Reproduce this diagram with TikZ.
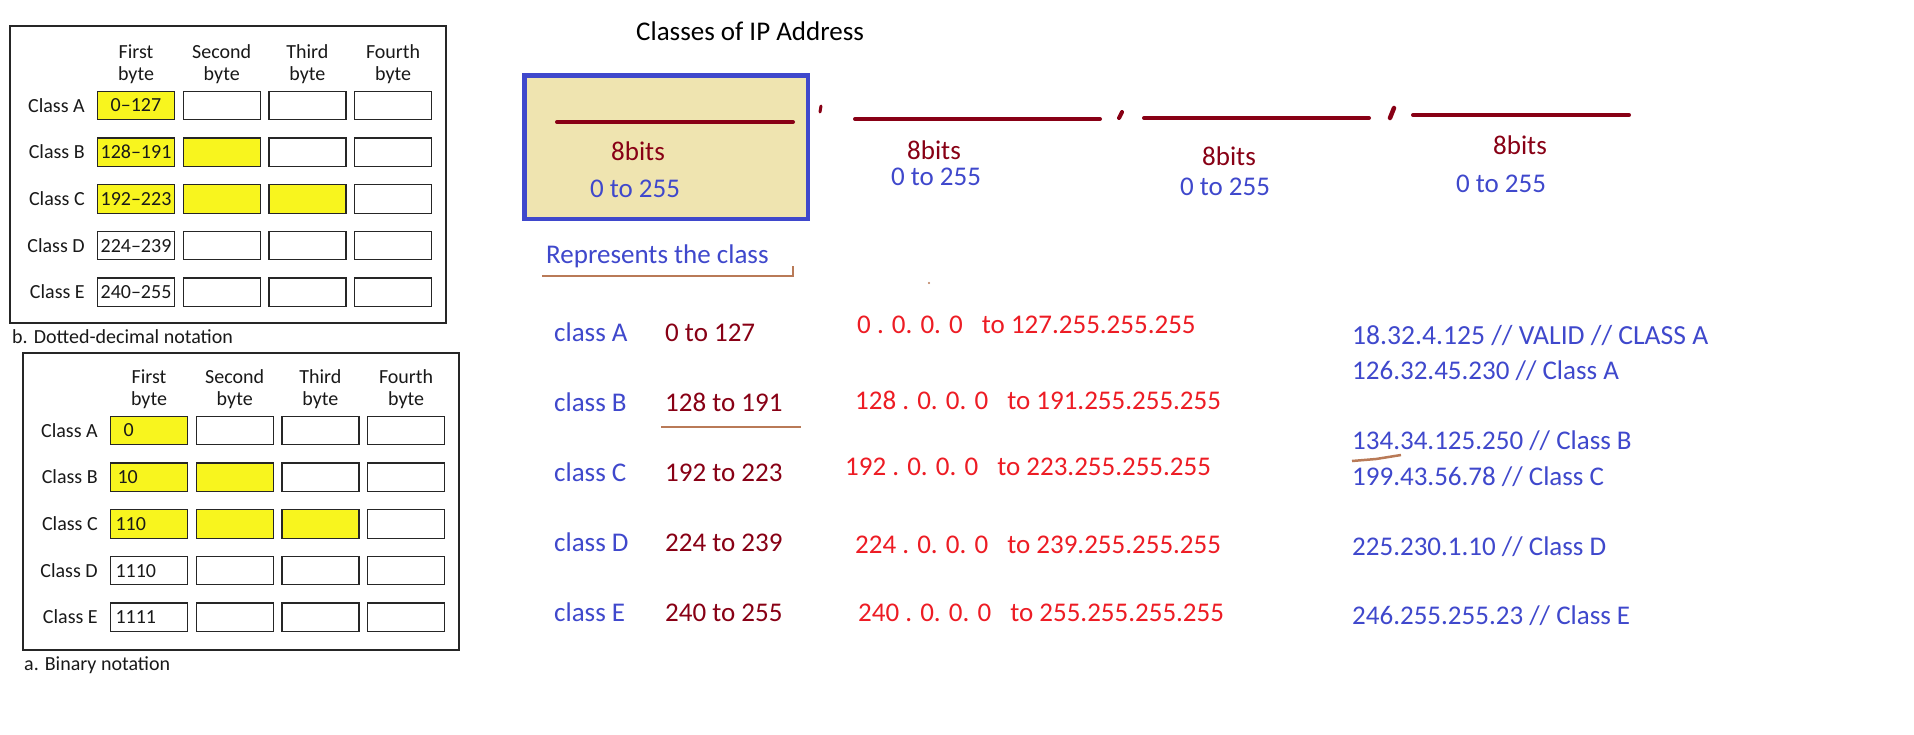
\documentclass[tikz,border=0pt]{standalone}
\usepackage{fontspec}
\setmainfont{Carlito}
\usetikzlibrary{positioning}
\definecolor{paintblue}{RGB}{63,72,204}
\definecolor{paintred}{RGB}{237,28,36}
\definecolor{darkred}{RGB}{136,0,21}
\definecolor{paintbrown}{RGB}{185,122,87}
\definecolor{boxfill}{RGB}{239,228,176}
\definecolor{cellyellow}{RGB}{248,245,30}
\def\cw{77pt}
\def\ch{28.5pt}
\tikzstyle{tab}=[inner sep=0pt,text=black!90,font=\fontsize{20}{22}\selectfont]
\tikzstyle{cell}=[tab,draw=black!85,line width=1.2pt,minimum width=\cw,minimum height=\ch]
\tikzstyle{bincell}=[cell,text width=67pt,align=left]
\tikzstyle{rowlabel}=[tab,text height=13pt,text depth=0pt]
\tikzstyle{head}=[tab,align=center]
\tikzstyle{frame}=[draw=black!85,line width=2pt]
\tikzstyle{txt}=[inner sep=0pt,text height=17pt,text depth=0pt,font=\fontsize{27}{32}\selectfont]
\tikzstyle{bluetxt}=[txt,text=paintblue]
\tikzstyle{redtxt}=[txt,text=paintred]
\tikzstyle{maroon}=[txt,text=darkred]
\tikzstyle{bitline}=[darkred,line width=4pt,line cap=round]
\tikzstyle{brownline}=[paintbrown,line width=2.7pt]
\tikzstyle{classbox}=[draw=paintblue,fill=boxfill,line width=4.5pt]
% one row of a byte table: name, label, first text, three fills, position, style
\newcommand{\newRow}[8]{%
  \node[#8,fill=#4,#7](#11){#3};
  \node[cell,fill=#5,right=of #11](#12){};
  \node[cell,fill=#6,right=of #12](#13){};
  \node[cell,fill=white,right=of #13](#14){};
  \node[rowlabel,left=12pt of #11](#1l){#2};}
% one class line: letter, y, range, address position, start, end
\newcommand{\newClass}[6]{%
  \node[bluetxt,anchor=west](cl#1) at (554,#2){class #1};
  \node[maroon,anchor=west](rg#1) at (665,#2){#3};
  \node[redtxt,anchor=west](ad#1) at (#4){#5\hspace{19pt}to #6};}

\begin{document}
\begin{tikzpicture}[x=1pt,y=-1pt,node distance=17pt and 7.5pt]
      \useasboundingbox[fill=white] (0,0) rectangle (1914,734);
      % b. dotted-decimal
      \draw[frame] (10,26) rectangle (446,323);
      \newRow{da}{Class A}{0–127}{cellyellow}{white}{white}{at={(136,105.5)}}{cell}
      \newRow{db}{Class B}{128–191}{cellyellow}{cellyellow}{white}{below=of da1}{cell}
      \newRow{dc}{Class C}{192–223}{cellyellow}{cellyellow}{cellyellow}{below=of db1}{cell}
      \newRow{dd}{Class D}{224–239}{white}{white}{white}{below=of dc1}{cell}
      \newRow{de}{Class E}{240–255}{white}{white}{white}{below=of dd1}{cell}
      \node[head,above=7pt of da1](dh1){First\\byte};
      \node[head,above=7pt of da2](dh2){Second\\byte};
      \node[head,above=7pt of da3](dh3){Third\\byte};
      \node[head,above=7pt of da4](dh4){Fourth\\byte};
      \node[rowlabel,anchor=west](dcap) at (12,337){b. Dotted-decimal notation};
      % a. binary
      \draw[frame] (23,353) rectangle (459,650);
      \newRow{ba}{Class A}{\hspace{8pt}0}{cellyellow}{white}{white}{at={(149,430.5)}}{bincell}
      \newRow{bb}{Class B}{\hspace{2pt}10}{cellyellow}{cellyellow}{white}{below=of ba1}{bincell}
      \newRow{bc}{Class C}{110}{cellyellow}{cellyellow}{cellyellow}{below=of bb1}{bincell}
      \newRow{bd}{Class D}{1110}{white}{white}{white}{below=of bc1}{bincell}
      \newRow{be}{Class E}{1111}{white}{white}{white}{below=of bd1}{bincell}
      \node[head,above=7pt of ba1](bh1){First\\byte};
      \node[head,above=7pt of ba2](bh2){Second\\byte};
      \node[head,above=7pt of ba3](bh3){Third\\byte};
      \node[head,above=7pt of ba4](bh4){Fourth\\byte};
      \node[rowlabel,anchor=west](bcap) at (24,664){a. Binary notation};
      % the four bytes
      \node[txt,anchor=west](title) at (636,32){Classes of IP Address};
      \node[classbox,minimum width=283.5pt,minimum height=143.5pt](box) at (666,147){};
      \draw[bitline] (557,122) -- (793,122);
      \draw[bitline] (855,119) -- (1100,119);
      \draw[bitline] (1144,118) -- (1369,118);
      \draw[bitline] (1413,115) -- (1629,115);
      \draw[bitline,line width=3pt] (821,106) -- (820,112);
      \draw[bitline] (1122,112) -- (1119,118);
      \draw[bitline,line width=4.5pt] (1394,108) -- (1390,118);
      \node[maroon](bits1) at (638,152){8bits};
      \node[bluetxt](rng1) at (635,189){0 to 255};
      \node[maroon](bits2) at (934,151){8bits};
      \node[bluetxt](rng2) at (936,177){0 to 255};
      \node[maroon](bits3) at (1229,157){8bits};
      \node[bluetxt](rng3) at (1225,187){0 to 255};
      \node[maroon](bits4) at (1520,146){8bits};
      \node[bluetxt](rng4) at (1501,184){0 to 255};
      \node[bluetxt,anchor=west](repr) at (546,255){Represents the class};
      \draw[brownline] (542,276) -- (793,276) -- (793,266);
      \fill[paintbrown] (929,283) circle (1.2pt);
      % classes
      \newClass{A}{333}{0 to 127}{857,325}{0 . 0. 0. 0}{127.255.255.255}
      \newClass{B}{403}{128 to 191}{855,401}{128 . 0. 0. 0}{191.255.255.255}
      \newClass{C}{473}{192 to 223}{845,467}{192 . 0. 0. 0}{223.255.255.255}
      \newClass{D}{543}{224 to 239}{855,545}{224 . 0. 0. 0}{239.255.255.255}
      \newClass{E}{613}{240 to 255}{858,613}{240 . 0. 0. 0}{255.255.255.255}
      \draw[brownline] (661,427) -- (801,427);
      % examples
      \node[bluetxt,anchor=west,font=\fontsize{27.6}{32}\selectfont](ex1) at (1352,336){18.32.4.125 // VALID // CLASS A};
      \node[bluetxt,anchor=west](ex2) at (1352,371){126.32.45.230 // Class A};
      \node[bluetxt,anchor=west](ex3) at (1352,441){134.34.125.250 // Class B};
      \node[bluetxt,anchor=west](ex4) at (1352,477){199.43.56.78 // Class C};
      \node[bluetxt,anchor=west](ex5) at (1352,547){225.230.1.10 // Class D};
      \node[bluetxt,anchor=west](ex6) at (1352,616){246.255.255.23 // Class E};
      \draw[brownline,line width=2.5pt] (1352,461) -- (1376,459) -- (1401,455);
    \end{tikzpicture}
\end{document}
